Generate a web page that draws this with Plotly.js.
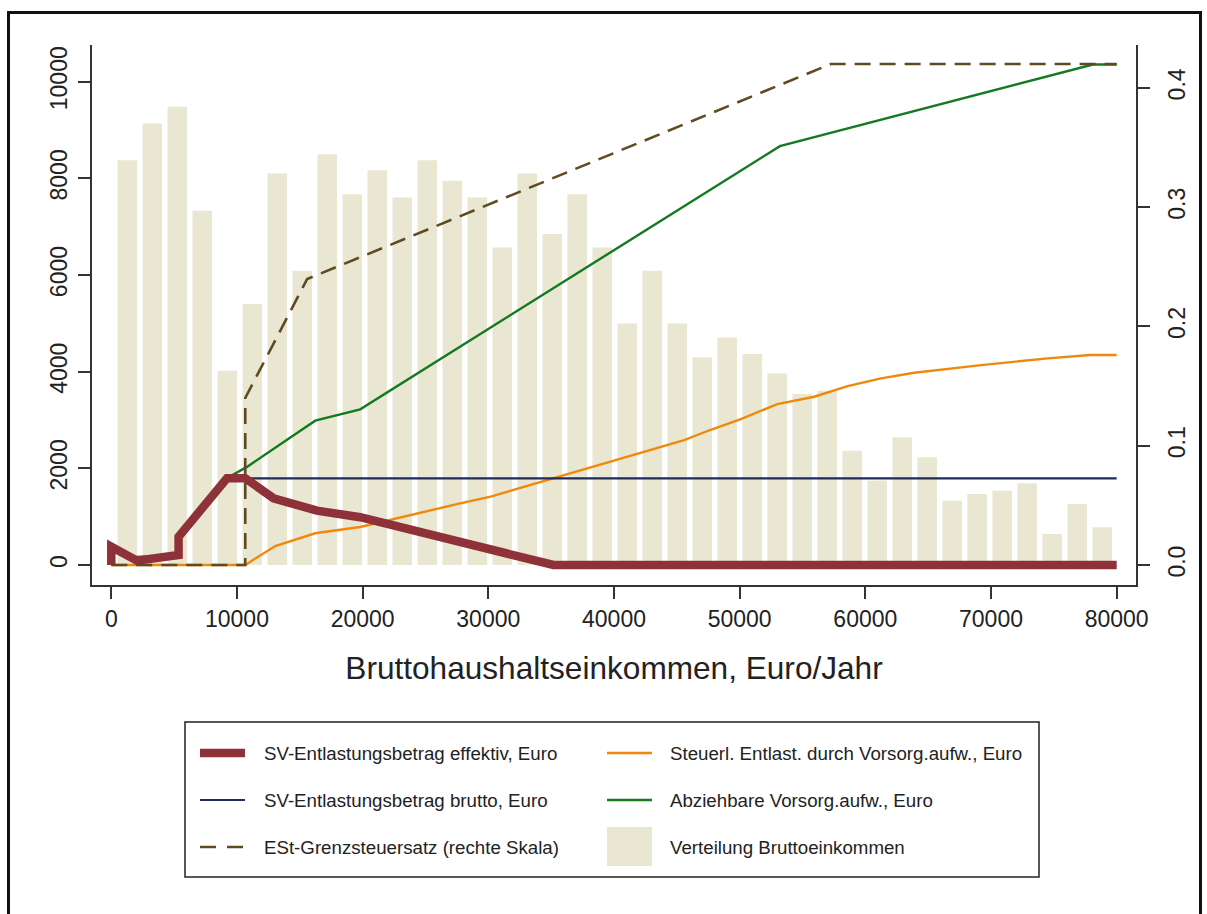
<!DOCTYPE html>
<html>
<head>
<meta charset="utf-8">
<script src="https://cdn.plot.ly/plotly-3.0.1.min.js"></script>
<style>
  html, body { margin: 0; padding: 0; background: #fff; }
  #chart { width: 1207px; height: 914px; }
</style>
</head>
<body>
<div id="chart"></div>
<script>
// ---- Data ----
// Histogram of gross household income (bin centres, Euro/year) and counts
const incomeBins = [1273, 3262, 5251, 7240, 9229, 11218, 13207, 15196, 17185, 19174,
  21163, 23152, 25141, 27130, 29119, 31108, 33097, 35086, 37075, 39064,
  41053, 43042, 45031, 47020, 49009, 50998, 52987, 54976, 56965, 58954,
  60943, 62932, 64921, 66910, 68899, 70888, 72877, 74866, 76855, 78844];
const incomeCounts = [8376, 9135, 9479, 7328, 4019, 5398, 8101, 6087, 8501, 7673,
  8170, 7604, 8376, 7949, 7604, 6571, 8101, 6846, 7673, 6571,
  4999, 6087, 4999, 4296, 4709, 4364, 3965, 3537, 3605, 2364,
  1750, 2641, 2228, 1330, 1468, 1537, 1690, 641, 1262, 780];

// SV-Entlastungsbetrag effektiv, Euro
const effektivX = [0, 0, 2044, 5354, 5354, 9204, 10660, 12911, 16363, 19807, 35185, 80000];
const effektivY = [0, 378, 89, 207, 586, 1794, 1794, 1380, 1124, 988, 0, 0];

// SV-Entlastungsbetrag brutto, Euro
const bruttoX = [0, 0, 2044, 5354, 5354, 9204, 80000];
const bruttoY = [0, 378, 89, 207, 586, 1794, 1794];

// Steuerl. Entlast. durch Vorsorg.aufw., Euro
const steuerX = [0, 10660, 13045, 16228, 19807, 23017, 27763, 30185, 35185, 40006, 45580,
  47650, 50096, 53000, 55934, 58590, 61245, 63900, 69210, 74520, 77879, 80000];
const steuerY = [0, 0, 393, 656, 786, 986, 1276, 1413, 1794, 2170, 2585,
  2793, 3020, 3330, 3481, 3702, 3861, 3977, 4136, 4275, 4345, 4345];

// Abziehbare Vorsorg.aufw., Euro
const abzugX = [0, 2044, 5354, 5354, 9300, 10794, 16228, 19807, 53200, 78100, 80000];
const abzugY = [360, 165, 205, 600, 1810, 2030, 2986, 3221, 8666, 10356, 10356];

// ESt-Grenzsteuersatz (rechte Skala)
const grenzX = [0, 10660, 10660, 15585, 57260, 80000];
const grenzY = [0, 0, 0.14, 0.2397, 0.42, 0.42];

const xTicks = [0, 10000, 20000, 30000, 40000, 50000, 60000, 70000, 80000];
const yTicks = [0, 2000, 4000, 6000, 8000, 10000];
const y2Ticks = [0, 0.1, 0.2, 0.3, 0.4];

const legendLabels = [
  'SV-Entlastungsbetrag effektiv, Euro',
  'Steuerl. Entlast. durch Vorsorg.aufw., Euro',
  'SV-Entlastungsbetrag brutto, Euro',
  'Abziehbare Vorsorg.aufw., Euro',
  'ESt-Grenzsteuersatz (rechte Skala)',
  'Verteilung Bruttoeinkommen'
];
const xTitle = 'Bruttohaushaltseinkommen, Euro/Jahr';

// ---- Styles ----
const C = {
  bar: '#e9e7d1',
  red: '#8e3139',
  navy: '#1f2b5e',
  green: '#137a1f',
  orange: '#f0880c',
  brown: '#5f4a22',
  axis: '#333333',
  text: '#222222'
};
const FONT = '"Liberation Sans", Arial, Helvetica, sans-serif';

const traces = [
  { type: 'bar', x: incomeBins, y: incomeCounts, yaxis: 'y',
    marker: { color: C.bar, line: { width: 0 } }, hoverinfo: 'skip' },
  { type: 'scatter', mode: 'lines', x: abzugX, y: abzugY, yaxis: 'y',
    line: { color: C.green, width: 2.4 } },
  { type: 'scatter', mode: 'lines', x: steuerX, y: steuerY, yaxis: 'y',
    line: { color: C.orange, width: 2.4 } },
  { type: 'scatter', mode: 'lines', x: bruttoX, y: bruttoY, yaxis: 'y',
    line: { color: C.navy, width: 2.2 } },
  { type: 'scatter', mode: 'lines', x: effektivX, y: effektivY, yaxis: 'y',
    line: { color: C.red, width: 8.5 } },
  { type: 'scatter', mode: 'lines', x: grenzX, y: grenzY, yaxis: 'y2',
    line: { color: C.brown, width: 2.6, dash: '16px,9px' } }
];

// pixel -> paper helpers (plot area: x 92..1136, y 45..585)
const L = 92, R = 1136, T = 45, B = 585;
const px = v => (v - L) / (R - L);
const py = v => (B - v) / (B - T);

const shapes = [];
const annotations = [];

// outer frame
shapes.push({ type: 'rect', xref: 'paper', yref: 'paper',
  x0: px(8.5), x1: px(1200.5), y0: py(940), y1: py(12.5),
  line: { color: '#111', width: 3 }, fillcolor: 'rgba(0,0,0,0)' });

// legend box
shapes.push({ type: 'rect', xref: 'paper', yref: 'paper',
  x0: px(185), x1: px(1039), y0: py(877), y1: py(722),
  line: { color: '#222', width: 1.5 }, fillcolor: 'rgba(0,0,0,0)' });

const rowsY = [753, 800, 847];
const colSym = [200, 607];
const colText = [262, 668];
const symW = 45;
const legendSym = [
  { color: C.red, width: 8.5 },
  { color: C.orange, width: 2.4 },
  { color: C.navy, width: 2.2 },
  { color: C.green, width: 2.4 },
  { color: C.brown, width: 2.6, dash: '16px,11px' },
  null
];
legendLabels.forEach((lab, i) => {
  const r = Math.floor(i / 2), c = i % 2;
  const yy = rowsY[r];
  if (legendSym[i]) {
    shapes.push({ type: 'line', xref: 'paper', yref: 'paper',
      x0: px(colSym[c]), x1: px(colSym[c] + symW), y0: py(yy), y1: py(yy),
      line: legendSym[i] });
  } else {
    shapes.push({ type: 'rect', xref: 'paper', yref: 'paper',
      x0: px(colSym[c]), x1: px(colSym[c] + symW), y0: py(866), y1: py(827),
      line: { width: 0 }, fillcolor: C.bar });
  }
  annotations.push({ xref: 'paper', yref: 'paper', x: px(colText[c]), y: py(yy),
    xanchor: 'left', yanchor: 'middle', showarrow: false, text: lab,
    font: { family: FONT, size: 18.7, color: C.text } });
});

const axisCommon = {
  showgrid: false, zeroline: false, showline: true, linewidth: 2, linecolor: C.axis,
  ticks: 'outside', ticklen: 12, tickwidth: 2, tickcolor: C.axis,
  tickfont: { family: FONT, size: 23, color: C.text }
};

const layout = {
  width: 1207, height: 914,
  margin: { l: L, r: 1207 - R, t: T, b: 914 - B, pad: 0 },
  paper_bgcolor: '#ffffff', plot_bgcolor: '#ffffff',
  showlegend: false, bargap: 0.22,
  font: { family: FONT, color: C.text },
  xaxis: Object.assign({}, axisCommon, {
    range: [-1535, 81537], tickmode: 'array', tickvals: xTicks,
    tickformat: 'd',
    title: { text: xTitle, font: { family: FONT, size: 31.6, color: C.text }, standoff: 26 }
  }),
  yaxis: Object.assign({}, axisCommon, {
    range: [-414, 10759], tickmode: 'array', tickvals: yTicks, tickformat: 'd',
    tickangle: -90, ticklabelstandoff: 2
  }),
  yaxis2: Object.assign({}, axisCommon, {
    overlaying: 'y', side: 'right', anchor: 'x',
    range: [-0.01676, 0.4359], tickmode: 'array', tickvals: y2Ticks, tickformat: '.1f',
    tickangle: -90, ticklabelstandoff: 7
  }),
  shapes: shapes,
  annotations: annotations
};

Plotly.newPlot('chart', traces, layout, { displayModeBar: false, staticPlot: true });
</script>
</body>
</html>
